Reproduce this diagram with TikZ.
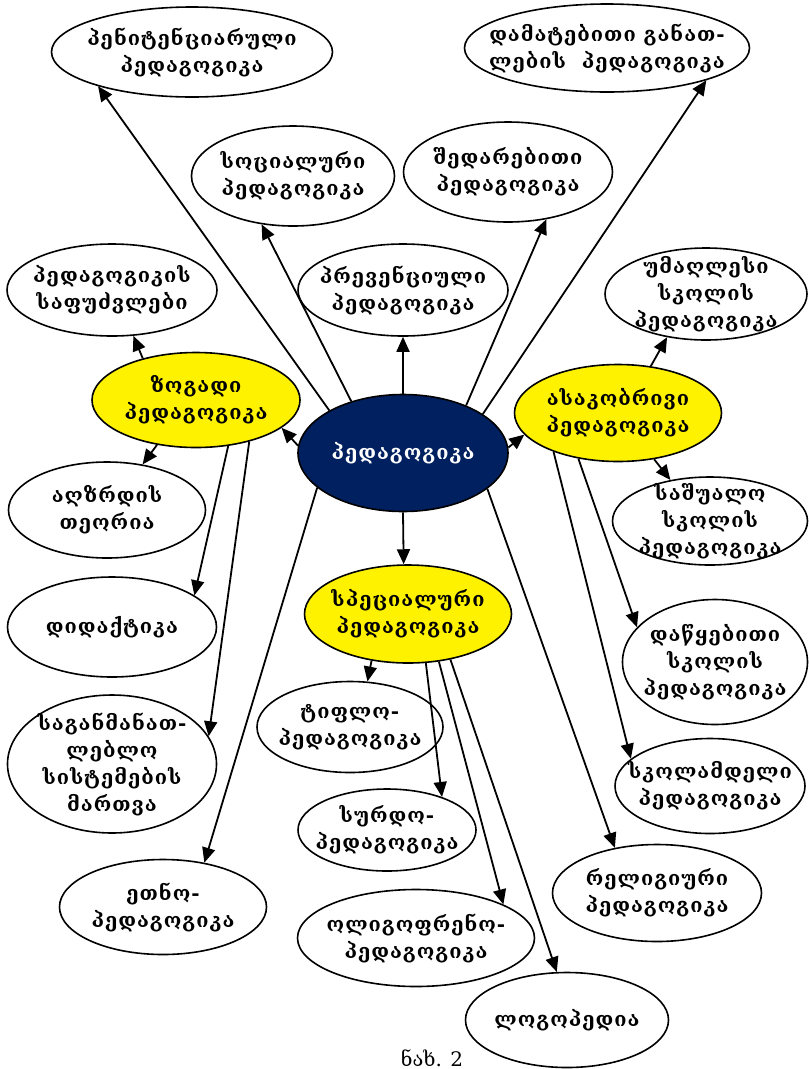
\documentclass[tikz,border=0pt]{standalone}
\usepackage{fontspec}
\newfontfamily\geo[LetterSpace=5]{DejaVu Serif}
\newfontfamily\geocap{DejaVu Serif}
\usetikzlibrary{shapes.geometric,arrows.meta}
\definecolor{navy}{RGB}{0,32,96}
\tikzset{
  plain/.style={ellipse,draw,line width=1.6pt,inner sep=0pt,fill=white},
  hub/.style={plain,fill=yellow},
  core/.style={plain,fill=navy},
  plain label/.style={font=\geo\bfseries\fontsize{20}{27}\selectfont,align=center,inner sep=0pt},
  hub label/.style={plain label},
  core label/.style={plain label,text=white},
  link/.style={line width=1.8pt,-{Triangle[length=15pt,width=13pt]}},
}
% name, style, centre, width, height, text
\newcommand\bubble[6]{%
  \node[#2,minimum width=#4pt,minimum height=#5pt] (#1) at (#3) {};
  \node[#2 label] (#1-t) at (#1) {#6};}
\begin{document}
\begin{tikzpicture}[x=1pt,y=-1pt]
\useasboundingbox (0,0) rectangle (809,1069);
\bubble{pen}{plain}{192,52}{281}{90}{პენიტენციარული\\პედაგოგიკა}
\bubble{dam}{plain}{607,48}{285}{88}{დამატებითი განათ-\\ლების\ \ პედაგოგიკა}
\bubble{soc}{plain}{293,176}{203}{100}{სოციალური\\პედაგოგიკა}
\bubble{she}{plain}{508,172}{209}{100}{შედარებითი\\პედაგოგიკა}
\bubble{saf}{plain}{112,290}{210}{92}{პედაგოგიკის\\საფუძვლები}
\bubble{pre}{plain}{403,290}{210}{92}{პრევენციული\\პედაგოგიკა}
\bubble{uma}{plain}{706,294}{202}{92}{უმაღლესი\\სკოლის\\პედაგოგიკა}
\bubble{zog}{hub}{196,400}{208}{95}{ზოგადი\\პედაგოგიკა}
\bubble{ped}{core}{403,453}{210}{117}{პედაგოგიკა}
\bubble{asa}{hub}{618,413}{207}{97}{ასაკობრივი\\პედაგოგიკა}
\bubble{agz}{plain}{107,510}{197}{96}{აღზრდის\\თეორია}
\bubble{sas}{plain}{710,521}{195}{88}{საშუალო\\სკოლის\\პედაგოგიკა}
\bubble{did}{plain}{112,627}{209}{100}{დიდაქტიკა}
\bubble{spe}{hub}{408,614}{207}{98}{სპეციალური\\პედაგოგიკა}
\bubble{daw}{plain}{715,662}{185}{125}{დაწყებითი\\სკოლის\\პედაგოგიკა}
\bubble{tif}{plain}{350,727}{186}{91}{ტიფლო-\\პედაგოგიკა}
\bubble{sag}{plain}{112,764}{209}{138}{საგანმანათ-\\ლებლო\\სისტემების\\მართვა}
\bubble{sko}{plain}{710,786}{190}{95}{სკოლამდელი\\პედაგოგიკა}
\bubble{sur}{plain}{387,830}{178}{82}{სურდო-\\პედაგოგიკა}
\bubble{etn}{plain}{163,907}{207}{95}{ეთნო-\\პედაგოგიკა}
\bubble{rel}{plain}{657,893}{209}{97}{რელიგიური\\პედაგოგიკა}
\bubble{oli}{plain}{416,938}{237}{97}{ოლიგოფრენო-\\პედაგოგიკა}
\bubble{log}{plain}{567,1020}{203}{95}{ლოგოპედია}

% from the central oval
\draw[link] (ped.150.7) -- (pen.200.3);
\draw[link] (ped.135) -- (soc.237.7);
\draw[link] (ped.90) -- (pre.-90);
\draw[link] (ped.37.7) -- (she.-51.8);
\draw[link] (ped.26.3) -- (dam.-18.1);
\draw[link] (ped.176.7) -- (zog.-18.4);
\draw[link] (ped.3.4) -- (asa.193);
\draw[link] (ped.-90) -- (spe.95.8);
\draw[link] (ped.202.6) -- (etn.47.7);
\draw[link] (ped.-23.4) -- (rel.133.7);
% general pedagogy
\draw[link] (zog.142.3) -- (saf.-65);
\draw[link] (zog.229.1) -- (agz.52.1);
\draw[link] (zog.-55.4) -- (did.21.1);
\draw[link] (zog.-38.3) -- (sag.16.8);
% age pedagogy
\draw[link] (asa.55.2) -- (uma.228.5);
\draw[link] (asa.-52.7) -- (sas.134.3);
\draw[link] (asa.229.8) -- (daw.156);
\draw[link] (asa.211.1) -- (sko.161.8);
% special pedagogy
\draw[link] (spe.232) -- (tif.69.3);
\draw[link] (spe.-70.9) -- (sur.31);
\draw[link] (spe.-57.4) -- (oli.21.9);
\draw[link] (spe.-47) -- (log.102);

\node[font=\geocap\fontsize{20}{22}\selectfont,inner sep=0pt] (cap) at (432,1058) {ნახ. 2};
\end{tikzpicture}
\end{document}
